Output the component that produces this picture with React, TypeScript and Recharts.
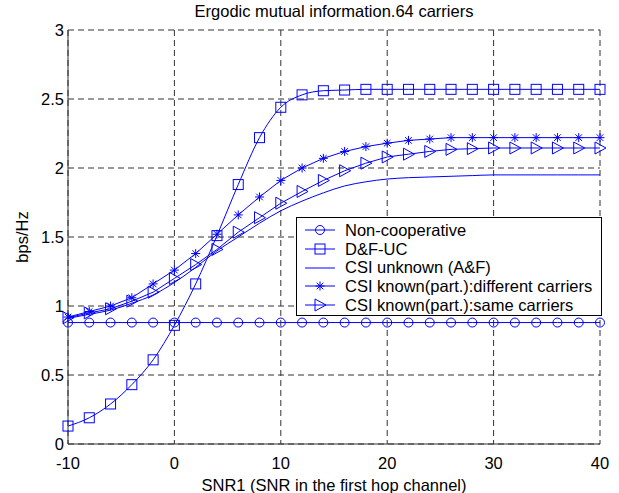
import React from "react";
import {
  CartesianGrid,
  Label,
  Legend,
  Line,
  LineChart,
  XAxis,
  YAxis,
} from "recharts";

const snr = [
  -10, -8, -6, -4, -2, 0, 2, 4, 6, 8, 10, 12, 14, 16, 18, 20, 22, 24, 26, 28,
  30, 32, 34, 36, 38, 40,
];
const nonCoop = [
  0.88, 0.88, 0.88, 0.88, 0.88, 0.88, 0.88, 0.88, 0.88, 0.88, 0.88, 0.88, 0.88,
  0.88, 0.88, 0.88, 0.88, 0.88, 0.88, 0.88, 0.88, 0.88, 0.88, 0.88, 0.88, 0.88,
];
const dfUc = [
  0.13, 0.19, 0.29, 0.43, 0.61, 0.86, 1.16, 1.51, 1.88, 2.22, 2.44, 2.53, 2.56,
  2.565, 2.57, 2.57, 2.57, 2.57, 2.57, 2.57, 2.57, 2.57, 2.57, 2.57, 2.57, 2.57,
];
const csiUnknown = [
  0.91, 0.94, 0.97, 1.02, 1.08, 1.17, 1.28, 1.4, 1.5, 1.6, 1.69, 1.76, 1.82,
  1.87, 1.9, 1.92, 1.93, 1.935, 1.94, 1.945, 1.95, 1.95, 1.95, 1.95, 1.95, 1.95,
];
const csiDiff = [
  0.92, 0.96, 1.0, 1.06, 1.16, 1.26, 1.38, 1.52, 1.66, 1.79, 1.91, 2.0, 2.07,
  2.12, 2.155, 2.18, 2.2, 2.21, 2.22, 2.22, 2.22, 2.22, 2.22, 2.22, 2.22, 2.22,
];
const csiSame = [
  0.915, 0.95, 0.98, 1.035, 1.1, 1.2, 1.3, 1.41, 1.535, 1.64, 1.745, 1.83, 1.91,
  1.98, 2.035, 2.08, 2.1, 2.12, 2.135, 2.14, 2.145, 2.145, 2.145, 2.145, 2.145,
  2.145,
];
const xTicks = [-10, 0, 10, 20, 30, 40];
const yTicks = [0, 0.5, 1, 1.5, 2, 2.5, 3];

const data = snr.map((x, i) => ({
  x,
  nonCoop: nonCoop[i],
  dfUc: dfUc[i],
  csiUnknown: csiUnknown[i],
  csiDiff: csiDiff[i],
  csiSame: csiSame[i],
}));

const BLUE = "#0000ff";
const FONT = "'Liberation Sans', Arial, sans-serif";
const FS = 16.5;

type Shape = "circle" | "square" | "none" | "star" | "triangle";

const marker = (shape: Shape, cx: number, cy: number, key?: any) => {
  if (shape === "circle")
    return <circle key={key} cx={cx} cy={cy} r={4.5} fill="none" stroke={BLUE} />;
  if (shape === "square")
    return (
      <rect key={key} x={cx - 5} y={cy - 5} width={10} height={10} fill="none" stroke={BLUE} />
    );
  if (shape === "star")
    return (
      <g key={key} stroke={BLUE}>
        <line x1={cx - 4.5} y1={cy} x2={cx + 4.5} y2={cy} />
        <line x1={cx} y1={cy - 4.5} x2={cx} y2={cy + 4.5} />
        <line x1={cx - 3.3} y1={cy - 3.3} x2={cx + 3.3} y2={cy + 3.3} />
        <line x1={cx - 3.3} y1={cy + 3.3} x2={cx + 3.3} y2={cy - 3.3} />
      </g>
    );
  if (shape === "triangle")
    return (
      <polygon
        key={key}
        points={`${cx - 5},${cy - 6} ${cx + 6},${cy} ${cx - 5},${cy + 6}`}
        fill="none"
        stroke={BLUE}
      />
    );
  return <g key={key} />;
};

const dotOf = (shape: Shape) => (props: any) =>
  marker(shape, props.cx, props.cy, `${shape}-${props.index}`);

const legendItems: { label: string; shape: Shape }[] = [
  { label: "Non-cooperative", shape: "circle" },
  { label: "D&F-UC", shape: "square" },
  { label: "CSI unknown (A&F)", shape: "none" },
  { label: "CSI known(part.):different carriers", shape: "star" },
  { label: "CSI known(part.):same carriers", shape: "triangle" },
];

const renderLegend = () => (
  <div
    style={{
      width: 306,
      height: 99,
      boxSizing: "border-box",
      border: "1px solid #000",
      background: "#fff",
      paddingTop: 3,
    }}
  >
    {legendItems.map((item) => (
      <div
        key={item.label}
        style={{ display: "flex", alignItems: "center", height: 18.7 }}
      >
        <svg width={48} height={18} style={{ flex: "none" }}>
          <line x1={8} y1={9} x2={38} y2={9} stroke={BLUE} />
          {marker(item.shape, 23, 9)}
        </svg>
        <span
          style={{
            fontFamily: FONT,
            fontSize: FS,
            color: "#000",
            whiteSpace: "nowrap",
          }}
        >
          {item.label}
        </span>
      </div>
    ))}
  </div>
);

export default function App() {
  return (
    <div
      style={{
        position: "absolute",
        left: 0,
        top: 0,
        width: 619,
        height: 493,
        background: "#fff",
      }}
    >
      <div
        style={{
          position: "absolute",
          top: 2,
          left: 68,
          width: 532,
          textAlign: "center",
          fontFamily: FONT,
          fontSize: FS,
          color: "#000",
        }}
      >
        Ergodic mutual information.64 carriers
      </div>
      <LineChart
        width={619}
        height={493}
        data={data}
        margin={{ top: 30, right: 19, left: 0, bottom: 0 }}
      >
        <CartesianGrid stroke="#333" strokeDasharray="6 4" />
        <XAxis
          dataKey="x"
          type="number"
          domain={[-10, 40]}
          ticks={xTicks}
          height={49}
          stroke="#333"
          tickLine={false}
          tick={{ fill: "#000", fontSize: FS, fontFamily: FONT }}
          tickSize={2}
          tickMargin={11}
        >
          <Label
            value="SNR1 (SNR in the first hop channel)"
            position="insideBottom"
            offset={2}
            style={{ fill: "#000", fontSize: FS, fontFamily: FONT }}
          />
        </XAxis>
        <YAxis
          type="number"
          domain={[0, 3]}
          ticks={yTicks}
          width={68}
          stroke="#333"
          tickLine={false}
          tick={{ fill: "#000", fontSize: FS, fontFamily: FONT }}
          tickSize={2}
          tickMargin={2}
        >
          <Label
            value="bps/Hz"
            angle={-90}
            position="insideLeft"
            offset={22}
            style={{
              fill: "#000",
              fontSize: FS,
              fontFamily: FONT,
              textAnchor: "middle",
            }}
          />
        </YAxis>
        <Legend
          layout="vertical"
          align="center"
          verticalAlign="middle"
          content={renderLegend}
          wrapperStyle={{ left: 296, top: 217, width: 306, height: 99 }}
        />
        <Line
          dataKey="nonCoop"
          stroke={BLUE}
          strokeWidth={1}
          dot={dotOf("circle")}
          activeDot={false}
          isAnimationActive={false}
        />
        <Line
          dataKey="dfUc"
          type="monotone"
          stroke={BLUE}
          strokeWidth={1}
          dot={dotOf("square")}
          activeDot={false}
          isAnimationActive={false}
        />
        <Line
          dataKey="csiUnknown"
          type="monotone"
          stroke={BLUE}
          strokeWidth={1}
          dot={false}
          activeDot={false}
          isAnimationActive={false}
        />
        <Line
          dataKey="csiDiff"
          stroke={BLUE}
          strokeWidth={1}
          dot={dotOf("star")}
          activeDot={false}
          isAnimationActive={false}
        />
        <Line
          dataKey="csiSame"
          stroke={BLUE}
          strokeWidth={1}
          dot={dotOf("triangle")}
          activeDot={false}
          isAnimationActive={false}
        />
      </LineChart>
    </div>
  );
}
